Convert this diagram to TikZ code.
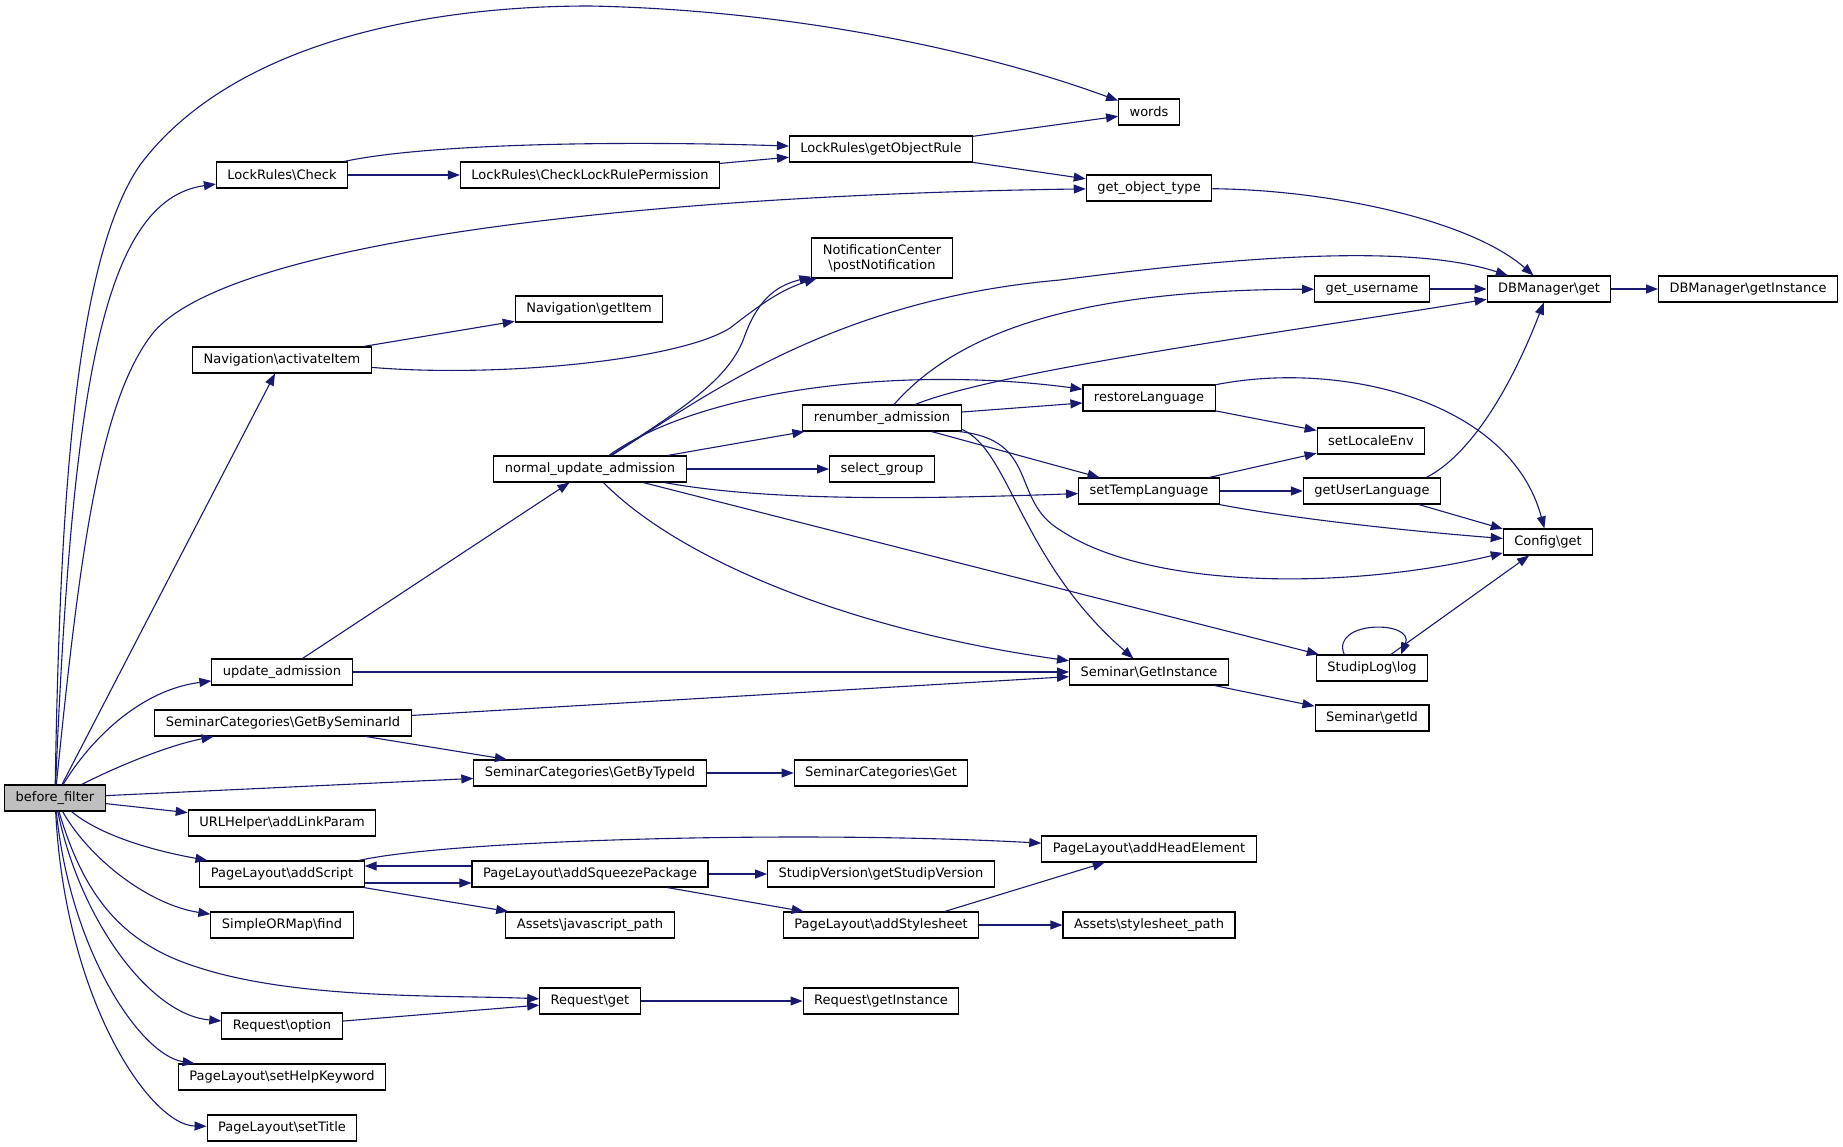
\documentclass[tikz,border=0pt]{standalone}
\usepackage{fontspec}
\setmainfont{DejaVu Sans}
\usepackage{xcolor}
\usepackage{tikz}
\usetikzlibrary{arrows.meta}

\definecolor{callblue}{HTML}{191970}
\newcommand{\bsl}{\textbackslash}

\begin{document}
\begin{tikzpicture}[
    x=1pt, y=-1pt,
    fnbox/.style={rectangle, draw=black, line width=1.1pt, fill=white, minimum height=26pt, inner xsep=11pt, inner ysep=2pt, font=\fontsize{13}{15}\selectfont},
    rootbox/.style={fnbox, fill=black!25},
    call/.style={callblue, line width=1.1pt, -{Triangle[length=12pt,width=9pt]}},
  ]
  \useasboundingbox (0,0) rectangle (1843,1147);

  % Caller
  \node[rootbox] (bf) at (55,798) {before\_filter};

  % Rank 1
  \node[fnbox] (lrCheck) at (282,175) {LockRules\bsl{}Check};
  \node[fnbox] (navActivate) at (282,360) {Navigation\bsl{}activateItem};
  \node[fnbox] (updAdm) at (282,672) {update\_admission};
  \node[fnbox] (catBySem) at (283,723) {SeminarCategories\bsl{}GetBySeminarId};
  \node[fnbox] (urlParam) at (282,823) {URLHelper\bsl{}addLinkParam};
  \node[fnbox] (addScript) at (282,874) {PageLayout\bsl{}addScript};
  \node[fnbox] (ormFind) at (282,925) {SimpleORMap\bsl{}find};
  \node[fnbox] (reqOption) at (282,1026) {Request\bsl{}option};
  \node[fnbox] (helpKey) at (282,1077) {PageLayout\bsl{}setHelpKeyword};
  \node[fnbox] (setTitle) at (282,1128) {PageLayout\bsl{}setTitle};

  % Rank 2
  \node[fnbox] (lrPerm) at (590,175) {LockRules\bsl{}CheckLockRulePermission};
  \node[fnbox] (navItem) at (589,309) {Navigation\bsl{}getItem};
  \node[fnbox] (nua) at (590,469) {normal\_update\_admission};
  \node[fnbox] (catByType) at (590,773) {SeminarCategories\bsl{}GetByTypeId};
  \node[fnbox] (squeeze) at (590,874) {PageLayout\bsl{}addSqueezePackage};
  \node[fnbox] (jsPath) at (590,925) {Assets\bsl{}javascript\_path};
  \node[fnbox] (reqGet) at (590,1001) {Request\bsl{}get};

  % Rank 3
  \node[fnbox] (lrRule) at (881,149) {LockRules\bsl{}getObjectRule};
  \node[fnbox, align=center, minimum height=40pt] (notify) at (882,258) {NotificationCenter\\ \bsl{}postNotification};
  \node[fnbox] (renumber) at (882,418) {renumber\_admission};
  \node[fnbox] (selGroup) at (882,469) {select\_group};
  \node[fnbox] (catGet) at (881,773) {SeminarCategories\bsl{}Get};
  \node[fnbox] (studipVer) at (881,874) {StudipVersion\bsl{}getStudipVersion};
  \node[fnbox] (addStyle) at (881,925) {PageLayout\bsl{}addStylesheet};
  \node[fnbox] (reqInst) at (881,1001) {Request\bsl{}getInstance};

  % Rank 4
  \node[fnbox] (words) at (1149,112) {words};
  \node[fnbox] (objType) at (1149,188) {get\_object\_type};
  \node[fnbox] (restoreLang) at (1149,398) {restoreLanguage};
  \node[fnbox] (tempLang) at (1149,491) {setTempLanguage};
  \node[fnbox] (semInst) at (1149,672) {Seminar\bsl{}GetInstance};
  \node[fnbox] (headElem) at (1149,849) {PageLayout\bsl{}addHeadElement};
  \node[fnbox] (cssPath) at (1149,925) {Assets\bsl{}stylesheet\_path};

  % Rank 5
  \node[fnbox] (userName) at (1372,289) {get\_username};
  \node[fnbox] (localeEnv) at (1371,441) {setLocaleEnv};
  \node[fnbox] (userLang) at (1372,491) {getUserLanguage};
  \node[fnbox] (logNode) at (1372,668) {StudipLog\bsl{}log};
  \node[fnbox] (semId) at (1372,718) {Seminar\bsl{}getId};

  % Rank 6 and 7
  \node[fnbox] (dbGet) at (1549,289) {DBManager\bsl{}get};
  \node[fnbox] (cfgGet) at (1548,542) {Config\bsl{}get};
  \node[fnbox] (dbInst) at (1748,289) {DBManager\bsl{}getInstance};

  % Calls from before_filter
  \draw[call] (bf) .. controls (60,500) and (75,260) .. (140,165) .. controls (230,45) and (420,6) .. (590,6) .. controls (790,10) and (980,50) .. (words);
  \draw[call] (bf) .. controls (72,400) and (100,200) .. (lrCheck);
  \draw[call] (bf) .. controls (80,550) and (100,400) .. (153,333) .. controls (230,240) and (650,195) .. (objType);
  \draw[call] (bf) -- (navActivate);
  \draw[call] (bf) .. controls (90,740) and (140,690) .. (updAdm);
  \draw[call] (bf) .. controls (120,765) and (170,745) .. (catBySem);
  \draw[call] (bf) -- (catByType);
  \draw[call] (bf) -- (urlParam);
  \draw[call] (bf) .. controls (100,835) and (150,850) .. (addScript);
  \draw[call] (bf) .. controls (90,860) and (150,905) .. (ormFind);
  \draw[call] (bf) .. controls (85,900) and (125,945) .. (200,968) .. controls (300,1000) and (450,995) .. (reqGet);
  \draw[call] (bf) .. controls (80,920) and (150,1015) .. (reqOption);
  \draw[call] (bf) .. controls (70,950) and (140,1055) .. (helpKey);
  \draw[call] (bf) .. controls (65,1000) and (150,1125) .. (setTitle);

  % Lock rules
  \draw[call] (lrCheck) .. controls (420,145) and (600,140) .. (lrRule);
  \draw[call] (lrCheck) -- (lrPerm);
  \draw[call] (lrPerm) -- (lrRule);
  \draw[call] (lrRule) -- (words);
  \draw[call] (lrRule) -- (objType);
  \draw[call] (objType) .. controls (1330,190) and (1470,220) .. (dbGet);

  % Navigation
  \draw[call] (navActivate) -- (navItem);
  \draw[call] (navActivate) .. controls (500,378) and (680,360) .. (730,328) .. controls (760,305) and (780,290) .. (notify);

  % Admission
  \draw[call] (updAdm) -- (nua);
  \draw[call] (updAdm) -- (semInst);
  \draw[call] (nua) .. controls (680,410) and (730,380) .. (745,335) .. controls (760,295) and (780,285) .. (notify);
  \draw[call] (nua) .. controls (700,400) and (830,300) .. (1060,280) .. controls (1200,262) and (1400,240) .. (dbGet);
  \draw[call] (nua) .. controls (700,390) and (900,365) .. (restoreLang);
  \draw[call] (nua) -- (renumber);
  \draw[call] (nua) -- (selGroup);
  \draw[call] (nua) .. controls (760,500) and (900,500) .. (tempLang);
  \draw[call] (nua) -- (logNode);
  \draw[call] (nua) .. controls (680,560) and (850,630) .. (semInst);
  \draw[call] (renumber) .. controls (960,330) and (1080,290) .. (userName);
  \draw[call] (renumber) .. controls (1000,370) and (1300,330) .. (dbGet);
  \draw[call] (renumber) -- (restoreLang);
  \draw[call] (renumber) -- (tempLang);
  \draw[call] (renumber.-8) .. controls (1010,450) and (1020,560) .. (semInst);
  \draw[call] (renumber.-10) .. controls (1040,440) and (1010,500) .. (1060,530) .. controls (1150,590) and (1350,590) .. (cfgGet);

  % Language and config
  \draw[call] (userName) -- (dbGet);
  \draw[call] (dbGet) -- (dbInst);
  \draw[call] (restoreLang) -- (localeEnv);
  \draw[call] (restoreLang) .. controls (1340,360) and (1510,400) .. (cfgGet);
  \draw[call] (tempLang) -- (localeEnv);
  \draw[call] (tempLang) -- (userLang);
  \draw[call] (tempLang) .. controls (1300,520) and (1420,532) .. (cfgGet);
  \draw[call] (userLang.14) .. controls (1470,455) and (1510,390) .. (dbGet);
  \draw[call] (userLang) -- (cfgGet);
  \draw[call] (logNode.154) .. controls (1330,620) and (1415,620) .. (logNode.25);
  \draw[call] (logNode) -- (cfgGet);
  \draw[call] (semInst) -- (semId);

  % Categories
  \draw[call] (catBySem) -- (semInst);
  \draw[call] (catBySem) -- (catByType);
  \draw[call] (catByType) -- (catGet);

  % Page layout and request
  \draw[call] (addScript.10) .. controls (450,840) and (800,830) .. (headElem);
  \draw[call] ([yshift=8pt]squeeze.west) -- ([yshift=8pt]addScript.east);
  \draw[call] ([yshift=-9pt]addScript.east) -- ([yshift=-9pt]squeeze.west);
  \draw[call] (addScript) -- (jsPath);
  \draw[call] (squeeze) -- (studipVer);
  \draw[call] (squeeze) -- (addStyle);
  \draw[call] (addStyle.12) -- (headElem);
  \draw[call] (addStyle) -- (cssPath);
  \draw[call] (reqOption) -- (reqGet);
  \draw[call] (reqGet) -- (reqInst);
\end{tikzpicture}
\end{document}
